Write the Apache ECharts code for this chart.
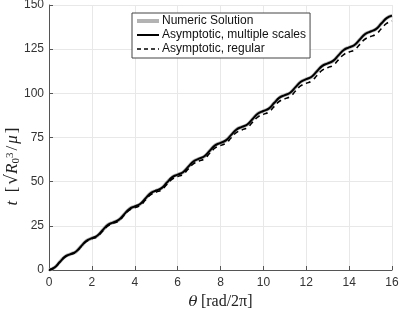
<!DOCTYPE html>
<html><head><meta charset="utf-8">
<script src="https://cdn.jsdelivr.net/npm/echarts@6/dist/echarts.min.js"></script>
<style>html,body{margin:0;padding:0;background:#fff}#c{width:399px;height:310px}</style>
</head><body><div id="c"></div>
<script>
// theta in units of rad/2pi, sampled every 0.25
var theta = [];
for (var i = 0; i <= 64; i++) theta.push(i / 4);

var multiScales = [0,1.35,4.5,7.55,9,10.35,13.5,16.55,18,19.35,22.5,25.55,27,28.35,31.5,34.55,
36,37.35,40.5,43.55,45,46.35,49.5,52.55,54,55.35,58.5,61.55,63,64.35,67.5,70.55,
72,73.35,76.5,79.55,81,82.35,85.5,88.55,90,91.35,94.5,97.55,99,100.35,103.5,106.55,
108,109.35,112.5,115.55,117,118.35,121.5,124.55,126,127.35,130.5,133.55,135,136.35,139.5,142.55,144];

var numeric = [0,1.3,4.5,7.6,9,10.3,13.5,16.6,18,19.3,22.5,25.6,27,28.3,31.5,34.6,
36,37.3,40.5,43.6,45,46.3,49.5,52.6,54,55.3,58.5,61.6,63,64.3,67.5,70.6,
72,73.3,76.5,79.6,81,82.3,85.5,88.6,90,91.3,94.5,97.6,99,100.3,103.5,106.6,
108,109.3,112.5,115.6,117,118.3,121.5,124.6,126,127.3,130.5,133.6,135,136.3,139.5,142.6,144];

var regular = [0,1.30,4.40,7.41,8.81,10.11,13.21,16.22,17.62,18.92,22.02,25.03,26.43,27.73,30.83,33.84,
35.24,36.54,39.64,42.65,44.05,45.35,48.45,51.46,52.86,54.16,57.26,60.27,61.67,62.97,66.07,69.08,
70.48,71.78,74.88,77.89,79.29,80.59,83.69,86.70,88.10,89.40,92.50,95.51,96.91,98.21,101.31,104.32,
105.72,107.02,110.12,113.13,114.53,115.83,118.93,121.94,123.34,124.64,127.74,130.75,132.15,133.45,136.55,139.56,140.96];

var names = ['Numeric Solution', 'Asymptotic, multiple scales', 'Asymptotic, regular'];

function pairs(ys) { return theta.map(function (x, i) { return [x, ys[i]]; }); }

var chart = echarts.init(document.getElementById('c'), null, {renderer: 'canvas'});
var axisCommon = {
  axisLine: {show: true, lineStyle: {color: '#555', width: 1}},
  axisTick: {show: true, inside: true, length: 4, lineStyle: {color: '#555'}},
  axisLabel: {color: '#333', fontSize: 12, fontFamily: 'Liberation Sans, Arial, sans-serif'},
  splitLine: {show: true, lineStyle: {color: '#e8e8e8', width: 1}}
};
var serif = 'Liberation Serif, DejaVu Serif, serif';
chart.setOption({
  animation: false,
  backgroundColor: '#fff',
  grid: {left: 49, right: 7, top: 5, bottom: 40, containLabel: false, outerBoundsMode: 'none'},
  xAxis: Object.assign({
    type: 'value', min: 0, max: 16, interval: 2,
    name: '{i|θ} {n|[rad/2π]}', nameLocation: 'middle', nameGap: 24, nameMoveOverlap: false,
    nameTextStyle: {rich: {
      i: {fontFamily: 'DejaVu Serif, serif', fontStyle: 'italic', fontSize: 15, color: '#222'},
      n: {fontFamily: serif, fontSize: 16, color: '#222'}
    }}
  }, axisCommon, {axisLabel: Object.assign({}, axisCommon.axisLabel, {margin: 7})}),
  yAxis: Object.assign({
    type: 'value', min: 0, max: 150, interval: 25,
    name: '{i|t} {n|[}{q|√}{r|R}{s|0}{p|3}{n|/}{m|μ}{n|]}', nameLocation: 'middle', nameGap: 36, nameMoveOverlap: false,
    nameTextStyle: {padding: [0, 56, 0, 0], verticalAlign: 'middle', rich: {
      i: {fontFamily: serif, fontStyle: 'italic', fontSize: 17, color: '#222', padding: [0, 3, 0, 0]},
      n: {fontFamily: serif, fontSize: 17, color: '#222', padding: [0, 2, 0, 2]},
      q: {fontFamily: 'DejaVu Sans, sans-serif', fontSize: 17, color: '#222'},
      r: {fontFamily: serif, fontStyle: 'italic', fontSize: 17, color: '#222'},
      s: {fontFamily: serif, fontSize: 11, color: '#222', verticalAlign: 'bottom', padding: [6, 0, 0, 0]},
      p: {fontFamily: serif, fontSize: 11, color: '#222', verticalAlign: 'top', padding: [0, 0, 6, 0]},
      m: {fontFamily: serif, fontStyle: 'italic', fontSize: 17, color: '#222'}
    }}
  }, axisCommon, {axisLabel: Object.assign({}, axisCommon.axisLabel, {margin: 5})}),
  legend: {
    orient: 'vertical', left: 132, top: 13,
    backgroundColor: '#fff', borderColor: '#444', borderWidth: 1,
    padding: [2, 4, 3, 3], itemGap: 2, itemWidth: 22, itemHeight: 13.5,
    itemStyle: {opacity: 0},
    textStyle: {fontSize: 12, color: '#111', fontFamily: 'Liberation Sans, Arial, sans-serif', padding: [0, 0, 0, -2]},
    data: [
      {name: names[0], lineStyle: {width: 4, color: '#b3b3b3'}},
      {name: names[1], lineStyle: {width: 2, color: '#000'}},
      {name: names[2], lineStyle: {width: 1.6, color: '#000', type: [4, 3]}}
    ]
  },
  series: [
    {name: names[0], type: 'line', data: pairs(numeric), smooth: true, symbol: 'none', showSymbol: false,
     lineStyle: {color: '#b3b3b3', width: 3.5}, itemStyle: {color: '#b3b3b3'}, z: 1},
    {name: names[2], type: 'line', data: pairs(regular), smooth: true, symbol: 'none', showSymbol: false,
     lineStyle: {color: '#000', width: 1.6, type: [5, 4]}, itemStyle: {color: '#000'}, z: 2},
    {name: names[1], type: 'line', data: pairs(multiScales), smooth: true, symbol: 'none', showSymbol: false,
     lineStyle: {color: '#000', width: 2}, itemStyle: {color: '#000'}, z: 3}
  ]
});
</script></body></html>
